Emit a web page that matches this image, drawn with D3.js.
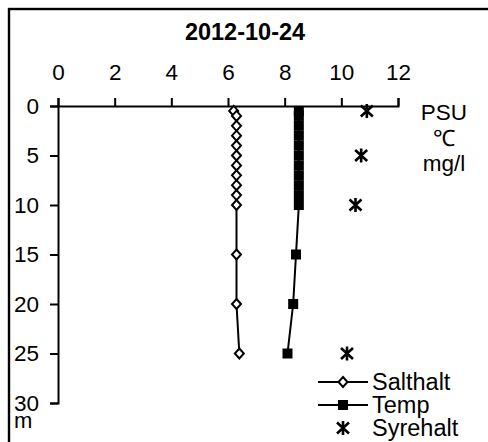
<!DOCTYPE html>
<html>
<head>
<meta charset="utf-8">
<script src="https://cdn.jsdelivr.net/npm/d3@7"></script>
<style>
  html, body { margin: 0; padding: 0; background: #fff; }
  svg { display: block; }
  text { font-family: Arial, "Liberation Sans", sans-serif; fill: #000; }
</style>
</head>
<body>
<script>
// ---- data ----
const title = "2012-10-24";
const xTicks = [0, 2, 4, 6, 8, 10, 12];
const yTicks = [0, 5, 10, 15, 20, 25, 30];
const unitLabels = ["PSU", "\u2103", "mg/l"];
const depthUnit = "m";

const saltDepth = [0.5, 1, 2, 3, 4, 5, 6, 7, 8, 9, 10, 15, 20, 25];
const saltValue = [6.2, 6.3, 6.3, 6.3, 6.3, 6.3, 6.3, 6.3, 6.3, 6.3, 6.3, 6.3, 6.3, 6.4];

const tempDepth = [0.5, 1, 2, 3, 4, 5, 6, 7, 8, 9, 10, 15, 20, 25];
const tempValue = [8.5, 8.5, 8.5, 8.5, 8.5, 8.5, 8.5, 8.5, 8.5, 8.5, 8.5, 8.4, 8.3, 8.1];

const oxyDepth = [0.5, 5, 10, 25];
const oxyValue = [10.9, 10.7, 10.5, 10.2];

const seriesNames = ["Salthalt", "Temp", "Syrehalt"];

// ---- drawing ----
const W = 488, H = 442;
const svg = d3.select("body").append("svg").attr("width", W).attr("height", H);

// outer frame (clipped at right/bottom)
svg.append("rect").attr("x", 9).attr("y", 9).attr("width", 600).attr("height", 600)
  .attr("fill", "none").attr("stroke", "#000").attr("stroke-width", 2.4);

const x = d3.scaleLinear().domain([0, 12]).range([58, 398]);
const y = d3.scaleLinear().domain([0, 30]).range([106, 403]);

svg.append("text").attr("x", 245).attr("y", 40).attr("text-anchor", "middle")
  .attr("font-weight", "bold").attr("font-size", 23.5).text(title);

const xAxis = svg.append("g").attr("transform", `translate(0,${y(0)})`)
  .call(d3.axisTop(x).tickValues(xTicks).tickSize(8).tickPadding(18).tickFormat(d3.format("d")));
const yAxis = svg.append("g").attr("transform", `translate(${x(0)},0)`)
  .call(d3.axisLeft(y).tickValues(yTicks).tickSize(8).tickPadding(11).tickFormat(d3.format("d")));
[xAxis, yAxis].forEach(g => {
  g.selectAll("path, line").attr("stroke", "#000").attr("stroke-width", 2);
  g.selectAll("text").attr("font-size", 22.5).attr("font-family", "Arial, 'Liberation Sans', sans-serif").attr("fill", "#000");
});

// units
unitLabels.forEach((u, i) => {
  svg.append("text").attr("x", 444).attr("y", 120 + i * 25.5).attr("text-anchor", "middle")
    .attr("font-size", 22.5).text(u);
});
svg.append("text").attr("x", 14).attr("y", 428).attr("font-size", 22).text(depthUnit);

const line = d3.line().x(d => x(d[0])).y(d => y(d[1]));
const saltPts = saltDepth.map((d, i) => [saltValue[i], d]);
const tempPts = tempDepth.map((d, i) => [tempValue[i], d]);
const oxyPts = oxyDepth.map((d, i) => [oxyValue[i], d]);

const diamond = "M0,-5L4.5,0L0,5L-4.5,0Z";
const star = "M0,-7V7M-6,-5.5L6,5.5M-6,5.5L6,-5.5";

function drawSalt(g, px, py) {
  g.append("path").attr("d", diamond).attr("transform", `translate(${px},${py})`)
    .attr("fill", "#fff").attr("stroke", "#000").attr("stroke-width", 2);
}
function drawTemp(g, px, py) {
  g.append("rect").attr("x", px - 5).attr("y", py - 5).attr("width", 10).attr("height", 10)
    .attr("fill", "#000");
}
function drawOxy(g, px, py) {
  g.append("path").attr("d", star).attr("transform", `translate(${px},${py})`)
    .attr("fill", "none").attr("stroke", "#000").attr("stroke-width", 2.6);
}

const plot = svg.append("g");
plot.append("path").attr("d", line(saltPts)).attr("fill", "none").attr("stroke", "#000").attr("stroke-width", 2);
plot.append("path").attr("d", line(tempPts)).attr("fill", "none").attr("stroke", "#000").attr("stroke-width", 2);
saltPts.forEach(p => drawSalt(plot, x(p[0]), y(p[1])));
tempPts.forEach(p => drawTemp(plot, x(p[0]), y(p[1])));
oxyPts.forEach(p => drawOxy(plot, x(p[0]), y(p[1])));

// legend
const leg = svg.append("g");
const legY = [382, 405, 428];
seriesNames.forEach((name, i) => {
  const ly = legY[i];
  if (i < 2) {
    leg.append("line").attr("x1", 318).attr("x2", 368).attr("y1", ly).attr("y2", ly)
      .attr("stroke", "#000").attr("stroke-width", 2);
  }
  if (i === 0) drawSalt(leg, 343, ly);
  if (i === 1) drawTemp(leg, 343, ly);
  if (i === 2) drawOxy(leg, 343, ly);
  leg.append("text").attr("x", 372).attr("y", ly + 8).attr("font-size", 23.5).text(name);
});
</script>
</body>
</html>
